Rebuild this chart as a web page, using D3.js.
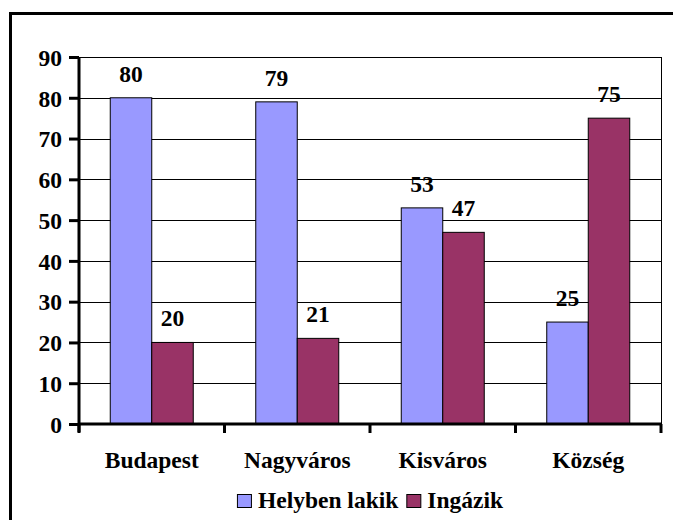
<!DOCTYPE html>
<html>
<head>
<meta charset="utf-8">
<script src="https://cdn.jsdelivr.net/npm/d3@7"></script>
<style>
  body { margin: 0; background: #fff; }
</style>
</head>
<body>
<svg id="chart" width="673" height="520"></svg>
<script>
// data
var categories = ['Budapest', 'Nagyváros', 'Kisváros', 'Község'];
var seriesNames = ['Helyben lakik', 'Ingázik'];
var helybenLakik = [80, 79, 53, 25];
var ingazik = [20, 21, 47, 75];
var yTicks = [0, 10, 20, 30, 40, 50, 60, 70, 80, 90];
var colors = ['#9999ff', '#993366'];

var plotLeft = 79, plotRight = 661, plotTop = 57, plotBottom = 424;
var fontSize = 23.5;
var fontFam = '"Liberation Serif", "Times New Roman", serif';

function txt(sel) {
  return sel.style('font-family', fontFam).style('font-weight', 'bold')
    .style('font-size', fontSize + 'px').attr('fill', '#000');
}

var svg = d3.select('#chart');

// outer frame (runs off the right and bottom of the picture)
svg.append('rect')
  .attr('x', 10.5).attr('y', 13.5)
  .attr('width', 700).attr('height', 600)
  .attr('fill', 'none').attr('stroke', '#000').attr('stroke-width', 3);

var x0 = d3.scaleBand().domain(categories).range([plotLeft, plotRight]);
var groupWidth = 83;
var x1 = d3.scaleBand().domain(seriesNames).range([0, groupWidth]);
var y = d3.scaleLinear().domain([0, 90]).range([plotBottom, plotTop]);

// gridlines
svg.append('g').selectAll('line')
  .data(yTicks.filter(t => t > 0))
  .enter().append('line')
  .attr('x1', plotLeft).attr('x2', plotRight)
  .attr('y1', d => Math.round(y(d)) + 0.5).attr('y2', d => Math.round(y(d)) + 0.5)
  .attr('stroke', '#000').attr('stroke-width', 1);

// right border of plot
svg.append('line')
  .attr('x1', plotRight + 0.5).attr('x2', plotRight + 0.5)
  .attr('y1', plotTop).attr('y2', plotBottom)
  .attr('stroke', '#000').attr('stroke-width', 1);

// bars
var rows = categories.map((c, i) => ({ cat: c, vals: [helybenLakik[i], ingazik[i]] }));
var groups = svg.append('g').selectAll('g')
  .data(rows).enter().append('g')
  .attr('transform', d => 'translate(' + (x0(d.cat) + (x0.bandwidth() - groupWidth) / 2) + ',0)');

groups.selectAll('rect')
  .data(d => d.vals.map((v, j) => ({ name: seriesNames[j], v: v, j: j })))
  .enter().append('rect')
  .attr('x', d => x1(d.name))
  .attr('y', d => y(d.v))
  .attr('width', x1.bandwidth())
  .attr('height', d => y(0) - y(d.v))
  .attr('fill', d => colors[d.j])
  .attr('stroke', '#000').attr('stroke-width', 1);

groups.selectAll('text')
  .data(d => d.vals.map((v, j) => ({ name: seriesNames[j], v: v })))
  .enter().append('text')
  .attr('x', d => x1(d.name) + x1.bandwidth() / 2)
  .attr('y', d => y(d.v) - 16)
  .attr('text-anchor', 'middle')
  .call(txt)
  .text(d => d.v);

// y axis
var yAxis = svg.append('g')
  .attr('transform', 'translate(' + plotLeft + ',0)')
  .call(d3.axisLeft(y).tickValues(yTicks).tickSize(10).tickPadding(7));
yAxis.select('.domain').attr('stroke-width', 3).attr('d', 'M0,' + plotTop + 'V' + (plotBottom + 8));
yAxis.selectAll('.tick line').attr('stroke-width', 3);
yAxis.selectAll('.tick text').call(txt).attr('dy', '0.35em');

// x axis
var xTicks = categories.map(c => x0(c)).concat([plotRight]);
var xAxisG = svg.append('g');
xAxisG.append('line')
  .attr('x1', plotLeft - 1).attr('x2', plotRight + 1)
  .attr('y1', plotBottom).attr('y2', plotBottom)
  .attr('stroke', '#000').attr('stroke-width', 3);
xAxisG.selectAll('.xt')
  .data(xTicks).enter().append('line')
  .attr('class', 'xt')
  .attr('x1', d => d).attr('x2', d => d)
  .attr('y1', plotBottom).attr('y2', plotBottom + 9)
  .attr('stroke', '#000').attr('stroke-width', 3);
xAxisG.selectAll('text')
  .data(categories).enter().append('text')
  .attr('x', d => x0(d) + x0.bandwidth() / 2)
  .attr('y', 468)
  .attr('text-anchor', 'middle')
  .call(txt)
  .text(d => d);

// legend
var legend = svg.append('g');
var lx = 0;
seriesNames.forEach((name, j) => {
  var item = legend.append('g').attr('transform', 'translate(' + lx + ',0)');
  item.append('rect')
    .attr('x', 0.5).attr('y', 494.5)
    .attr('width', 14).attr('height', 13)
    .attr('fill', colors[j]).attr('stroke', '#000').attr('stroke-width', 1);
  var t = item.append('text')
    .attr('x', 21).attr('y', 508)
    .call(txt)
    .text(name);
  lx += 21 + t.node().getComputedTextLength() + 8;
});
var legendWidth = lx - 8;
legend.attr('transform', 'translate(' + ((plotLeft + plotRight) / 2 - legendWidth / 2) + ',0)');
</script>
</body>
</html>
